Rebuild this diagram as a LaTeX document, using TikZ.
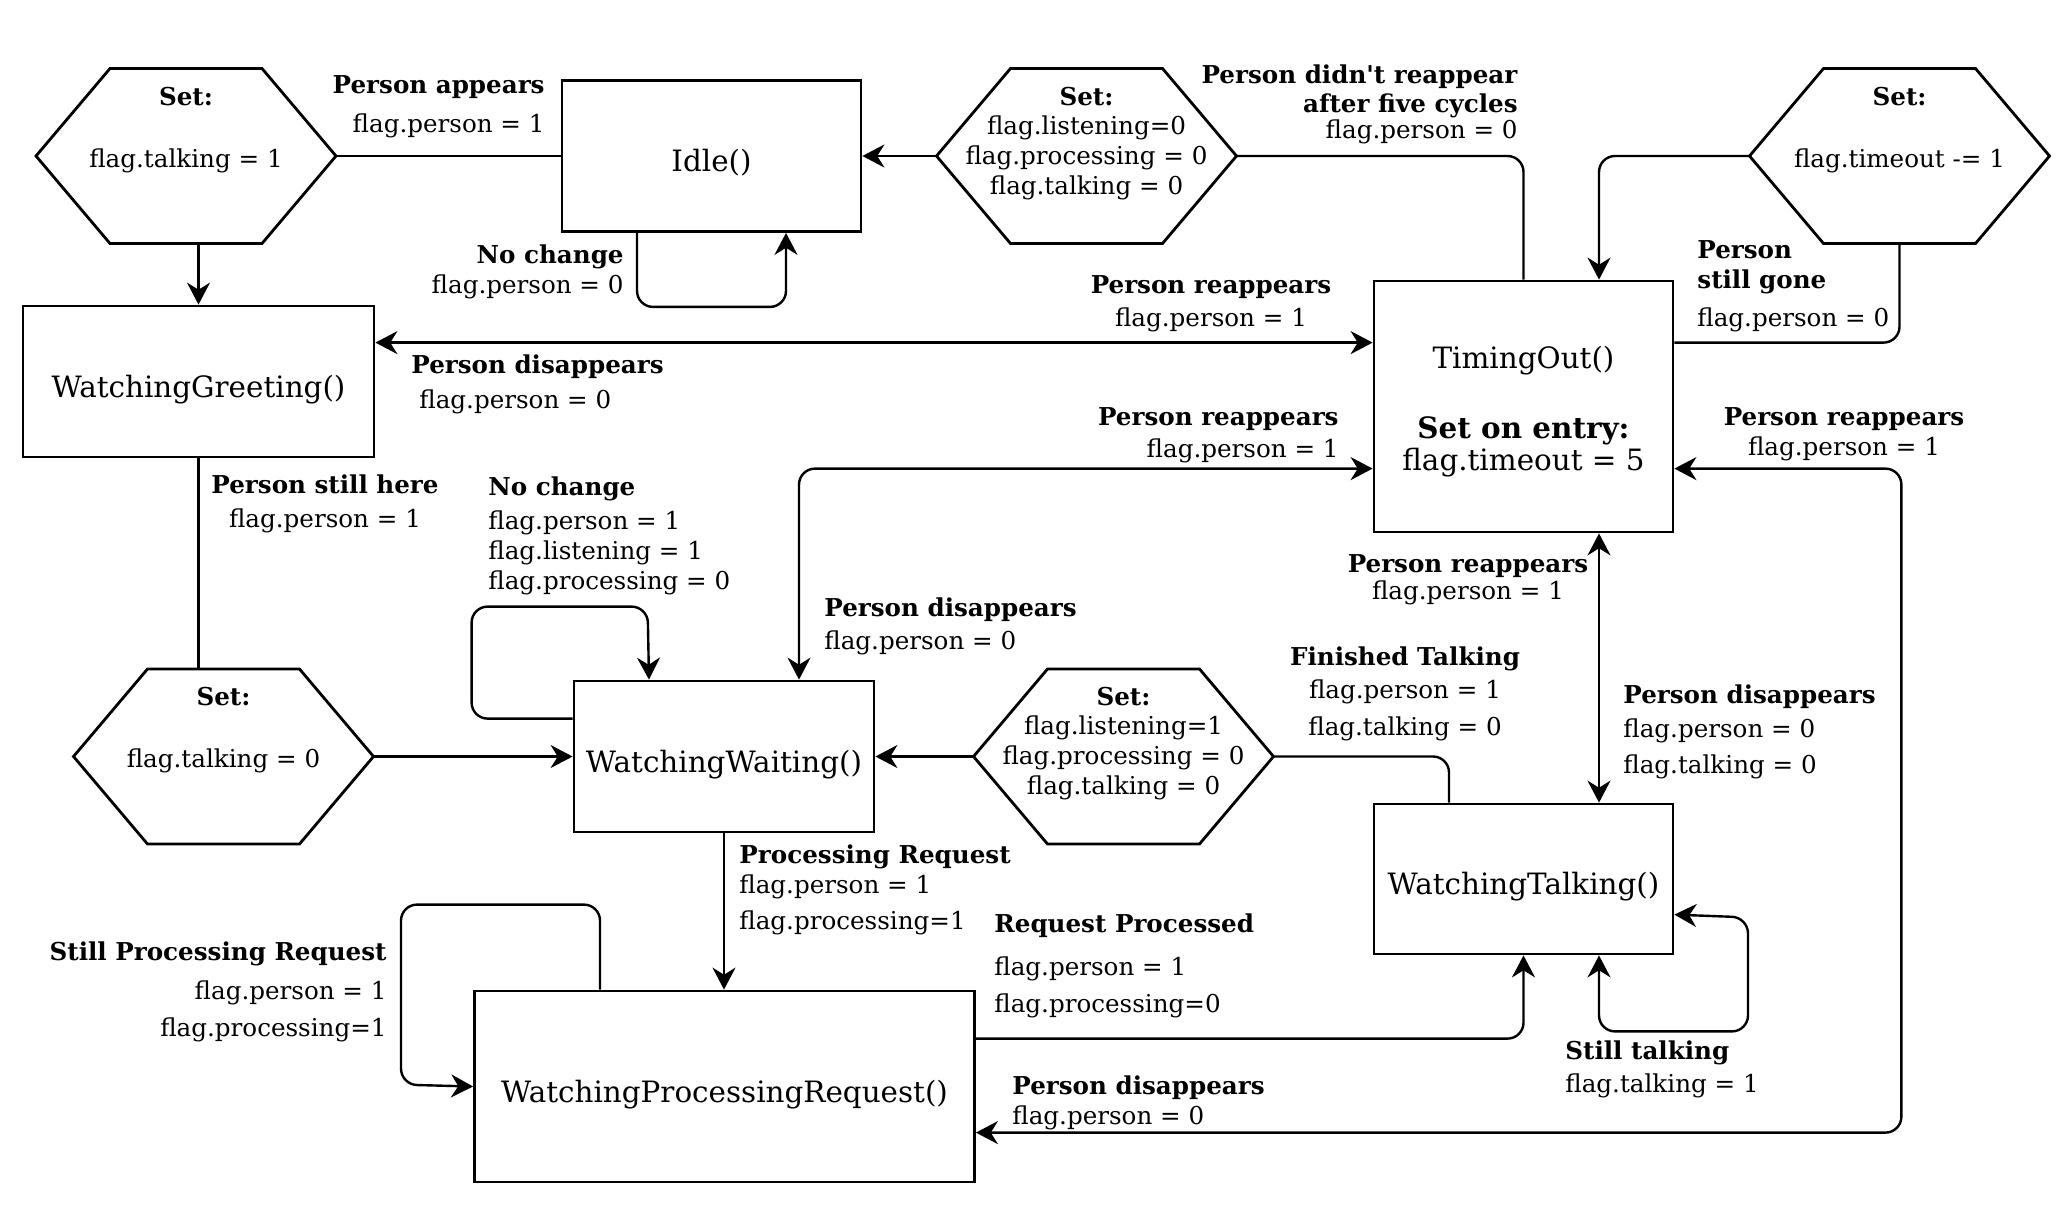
\documentclass[tikz,border=0pt]{standalone}
\usepackage{fontspec}
\setmainfont{DejaVu Serif}
\usepackage{xcolor}
\usepackage{tikz}
\usetikzlibrary{positioning, calc, arrows.meta}
\definecolor{smInk}{RGB}{0, 0, 0}
\newcommand{\labfont}{\fontsize{12.3pt}{15pt}\selectfont}
\newcommand{\statefont}{\fontsize{14.7pt}{18pt}\selectfont}
\tikzset{
    base/.style={
        text=smInk,
        inner sep=0pt
    },
    state/.style={
        base,
        rectangle,
        draw=smInk,
        line width=1.4pt,
        font=\statefont,
        align=center,
        text height=16pt,
        text depth=0.2pt
    },
    setlab/.style={
        base,
        font=\labfont\bfseries,
        text height=9pt,
        text depth=0pt,
        label distance=-18.5pt
    },
    hexa/.style={
        base,
        rectangle,
        font=\labfont,
        align=center,
        text height=14.3pt,
        text depth=2.9pt,
        minimum width=150pt,
        minimum height=87.5pt,
        outer sep=0pt,
        label={[setlab]above:{Set:}}
    },
    lab/.style={
        base,
        font=\labfont
    },
    link/.style={
        line width=1.2pt,
        draw=smInk,
        rounded corners=8pt
    },
    flow/.style={
        link,
        -{Stealth[length=11pt, width=11.5pt]}
    },
    twoway/.style={
        link,
        {Stealth[length=11pt, width=11.5pt]}-{Stealth[length=11pt, width=11.5pt]}
    }
}
\begin{document}
\begin{tikzpicture}[x=0.5pt, y=-0.5pt]
  \useasboundingbox (0,0) rectangle (2060,1210);

  % States
  \node[state, minimum width=149.5pt, minimum height=75.5pt] (idle) at (711.5,156) {Idle()};
  \node[state, minimum width=175.5pt, minimum height=75.5pt] (greet) at (198.5,381.5) {WatchingGreeting()};
  \node[state, minimum width=149.5pt, minimum height=125.5pt, text height=67.4pt, text depth=3.5pt] (timeout) at (1523.5,406.5)
    {TimingOut()\\[17pt]\textbf{Set on entry:}\\[-2pt]flag.timeout = 5};
  \node[state, minimum width=150pt, minimum height=75.5pt] (waiting) at (724,756.5) {WatchingWaiting()};
  \node[state, minimum width=149.5pt, minimum height=75pt] (talking) at (1523.5,879) {WatchingTalking()};
  \node[state, minimum width=250pt, minimum height=95.5pt] (processing) at (724.5,1086.5) {WatchingProcessingRequest()};

  % Set blocks
  \node[hexa] (setGreet) at (186,156) {flag.talking = 1};
  \node[hexa, text height=41.3pt] (setIdle) at (1086.5,156) {flag.listening=0\\flag.processing = 0\\flag.talking = 0};
  \node[hexa] (setTimeout) at (1899.5,156) {flag.timeout -= 1};
  \node[hexa] (setWait) at (223.5,756.5) {flag.talking = 0};
  \node[hexa, text height=41.3pt] (setListen) at (1123.5,756.5) {flag.listening=1\\flag.processing = 0\\flag.talking = 0};
  \foreach \h in {setGreet, setIdle, setTimeout, setWait, setListen}
    \draw[line width=1.4pt, draw=smInk] (\h.west) -- ([xshift=37pt]\h.north west) -- ([xshift=-37pt]\h.north east)
      -- (\h.east) -- ([xshift=-37pt]\h.south east) -- ([xshift=37pt]\h.south west) -- cycle;

  % Transitions
  \draw[link] (setGreet.east) -- (idle.west);
  \draw[flow] (greet.north |- setGreet.south) -- (greet.north);
  \draw[flow] ([xshift=-37.25pt]idle.south) -- ++(0,74) -| ([xshift=37.25pt]idle.south);
  \draw[flow] (setIdle.west) -- (idle.east);
  \draw[link] (timeout.north) |- (setIdle.east);
  \draw[flow] (setTimeout.west) -| ([xshift=37.75pt]timeout.north);
  \draw[link] ([yshift=-31.5pt]timeout.north east) -| (setTimeout.south);
  \draw[twoway] ([yshift=-19pt]greet.north east) -- ([yshift=-31.5pt]timeout.north west);
  \draw[twoway] ([xshift=37.5pt]waiting.north) |- ([yshift=-94.5pt]timeout.north west);
  \draw[link] (greet.south) -- (greet.south |- setWait.north);
  \draw[flow] (setWait.east) -- (waiting.west);
  \draw[flow] ([yshift=-19.5pt]waiting.north west) -- ++(-101,0) -- ++(0,-112) -- ++(176,0) -- ([xshift=-37.5pt]waiting.north);
  \draw[flow] (setListen.west) -- (waiting.east);
  \draw[link] ([xshift=-37.25pt]talking.north) |- (setListen.east);
  \draw[twoway] ([xshift=37.75pt]timeout.south) -- ([xshift=37.75pt]talking.north);
  \draw[twoway] ([xshift=37.75pt]talking.south) -- ++(0,76) -- ++(149,0) -- ++(0,-114) -- ([yshift=-56pt]talking.north east);
  \draw[flow] (waiting.south) -- (waiting.south |- processing.north);
  \draw[flow] ([xshift=-62.25pt]processing.north) -- ++(0,-85) -- ++(-199,0) -- ++(0,180) -- (processing.west);
  \draw[flow] ([yshift=-24.5pt]processing.north east) -| (talking.south);
  \draw[twoway] ([yshift=-94.5pt]timeout.north east) -- ++(227,0) |- ([yshift=-71.5pt]processing.north east);

  % Labels
  \node[lab, anchor=base east, align=right] (lbAppear) at (545,132) {\textbf{Person appears}\\[4.5pt]flag.person = 1};
  \node[lab, anchor=base east, align=right] (lbIdleSame) at (624,293) {\textbf{No change}\\flag.person = 0};
  \node[lab, anchor=base west, align=left] (lbGreetGone) at (411,408) {\textbf{Person disappears}\\[2.5pt]\hspace*{4pt}flag.person = 0};
  \node[lab, anchor=base, align=center] (lbStillHere) at (325,527) {\textbf{Person still here}\\[2pt]flag.person = 1};
  \node[lab, anchor=base west, align=left] (lbWaitSame) at (488,589) {\textbf{No change}\\[2pt]flag.person = 1\\flag.listening = 1\\flag.processing = 0};
  \node[lab, anchor=base east, align=right] (lbNoReturn) at (1518,138)
    {\textbf{Person didn{\addfontfeature{Ligatures=TeXOff}'}t reappear}\\[-0.5pt]\textbf{after five cycles}\\[-2pt]flag.person = 0};
  \node[lab, anchor=base, align=center] (lbBackGreet) at (1211,326) {\textbf{Person reappears}\\[1.5pt]flag.person = 1};
  \node[lab, anchor=base east, align=right] (lbBackWait) at (1339,457) {\textbf{Person reappears}\\[1pt]flag.person = 1};
  \node[lab, anchor=base west, align=left] (lbStillGone) at (1697,326) {\textbf{Person}\\\textbf{still gone}\\[4pt]flag.person = 0};
  \node[lab, anchor=base, align=center] (lbBackProc) at (1844,455) {\textbf{Person reappears}\\flag.person = 1};
  \node[lab, anchor=base west, align=left] (lbWaitGone) at (824,649) {\textbf{Person disappears}\\[1.5pt]flag.person = 0};
  \node[lab, anchor=base, align=center] (lbBackTalk) at (1468,599) {\textbf{Person reappears}\\[-1.5pt]flag.person = 1};
  \node[lab, anchor=base, align=center] (lbFinished) at (1405,735) {\textbf{Finished Talking}\\[1.5pt]flag.person = 1\\[3.5pt]flag.talking = 0};
  \node[lab, anchor=base west, align=left] (lbTalkGone) at (1623,773) {\textbf{Person disappears}\\[2pt]flag.person = 0\\[3pt]flag.talking = 0};
  \node[lab, anchor=base west, align=left] (lbRequest) at (739,929) {\textbf{Processing Request}\\flag.person = 1\\[3pt]flag.processing=1};
  \node[lab, anchor=base east, align=right] (lbStillProc) at (387,1036) {\textbf{Still Processing Request}\\[4.5pt]flag.person = 1\\[3.5pt]flag.processing=1};
  \node[lab, anchor=base west, align=left] (lbDone) at (994,1012) {\textbf{Request Processed}\\[6.5pt]flag.person = 1\\[3.5pt]flag.processing=0};
  \node[lab, anchor=base west, align=left] (lbStillTalk) at (1565,1092) {\textbf{Still talking}\\[1.5pt]flag.talking = 1};
  \node[lab, anchor=base west, align=left] (lbProcGone) at (1012,1124) {\textbf{Person disappears}\\flag.person = 0};
\end{tikzpicture}
\end{document}
